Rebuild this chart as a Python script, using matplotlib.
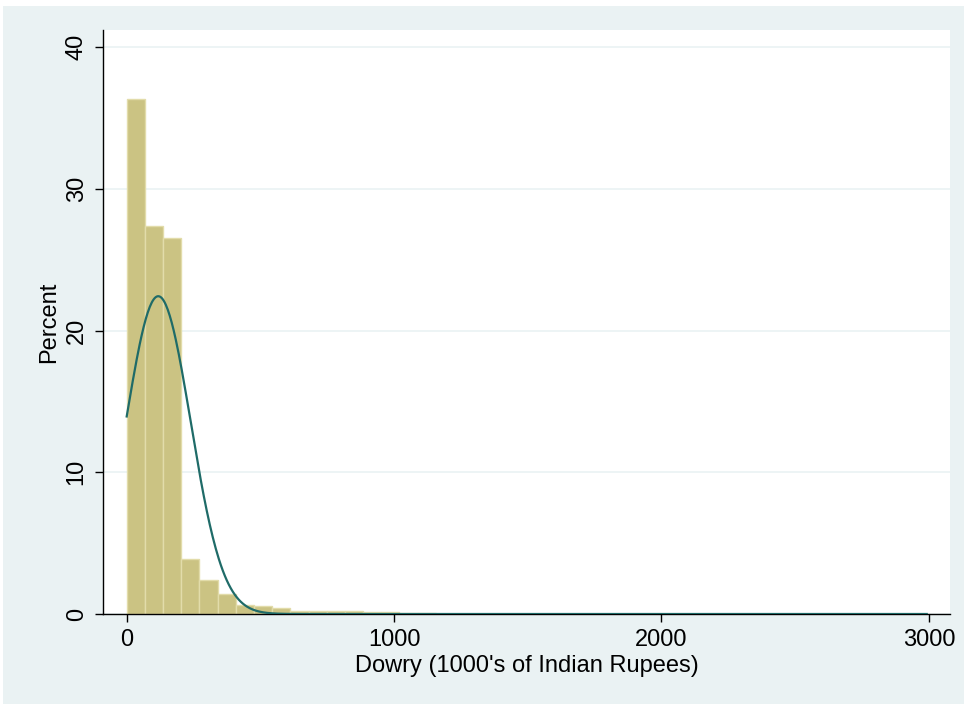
import numpy as np
import matplotlib
matplotlib.use("Agg")
from matplotlib import pyplot as plt
from matplotlib.patches import Rectangle

# Histogram of dowry amounts (percent per bin), bin width
bin_width = 68
percent = [36.3, 27.35, 26.55, 3.85, 2.4, 1.4, 0.65, 0.55, 0.4, 0.22,
           0.2, 0.2, 0.18, 0.12, 0.12, 0.05, 0.05, 0.03, 0.02, 0.02,
           0.0, 0.02, 0.0, 0.01, 0.0, 0.01, 0.0, 0.0, 0.01, 0.0,
           0.0, 0.0, 0.01, 0.0, 0.0, 0.0, 0.0, 0.0, 0.0, 0.0,
           0.0, 0.0, 0.0, 0.01]
# normal curve overlay parameters
mean_dowry = 118
sd_dowry = 121

x_ticks = [0, 1000, 2000, 3000]
y_ticks = [0, 10, 20, 30, 40]

plt.rcParams["font.family"] = ["Liberation Sans", "DejaVu Sans"]

fig = plt.figure(figsize=(9.68, 7.07), dpi=100)
fig.patch.set_facecolor("white")
# light bluish graph region like Stata s2color
bg = Rectangle((3 / 968, 3 / 707), 961 / 968, 698 / 707,
               transform=fig.transFigure, facecolor="#eaf2f3",
               edgecolor="none", zorder=-5)
fig.add_artist(bg)

ax = fig.add_axes([103 / 968, 1 - 614 / 707, 847 / 968, 584 / 707])
ax.set_zorder(1)
ax.set_facecolor("white")

lefts = np.arange(len(percent)) * bin_width
ax.bar(lefts, percent, width=bin_width, align="edge", color="#cbc383",
       edgecolor="#e2dcaa", linewidth=1, zorder=2)

xs = np.linspace(0, len(percent) * bin_width, 800)
dens = np.exp(-0.5 * ((xs - mean_dowry) / sd_dowry) ** 2) / (sd_dowry * np.sqrt(2 * np.pi))
ax.plot(xs, dens * bin_width * 100, color="#1f6b68", linewidth=1.6, zorder=3)

ax.set_xlim(-88.6, 3079)
ax.set_ylim(0, 41.2)
ax.set_xticks(x_ticks)
ax.set_yticks(y_ticks)
ax.set_yticklabels([str(v) for v in y_ticks], rotation=90, va="center")
ax.tick_params(axis="both", labelsize=17, length=6, width=1, color="black", pad=5)
ax.grid(axis="y", color="#eaf2f3", linewidth=1.2, zorder=1)
ax.set_axisbelow(True)

for s in ["top", "right"]:
    ax.spines[s].set_visible(False)
for s in ["left", "bottom"]:
    ax.spines[s].set_color("black")
    ax.spines[s].set_linewidth(1)

ax.set_xlabel("Dowry (1000's of Indian Rupees)", fontsize=17, labelpad=3)
ax.set_ylabel("Percent", fontsize=17, labelpad=4)

fig.savefig("out.png", dpi=100)
